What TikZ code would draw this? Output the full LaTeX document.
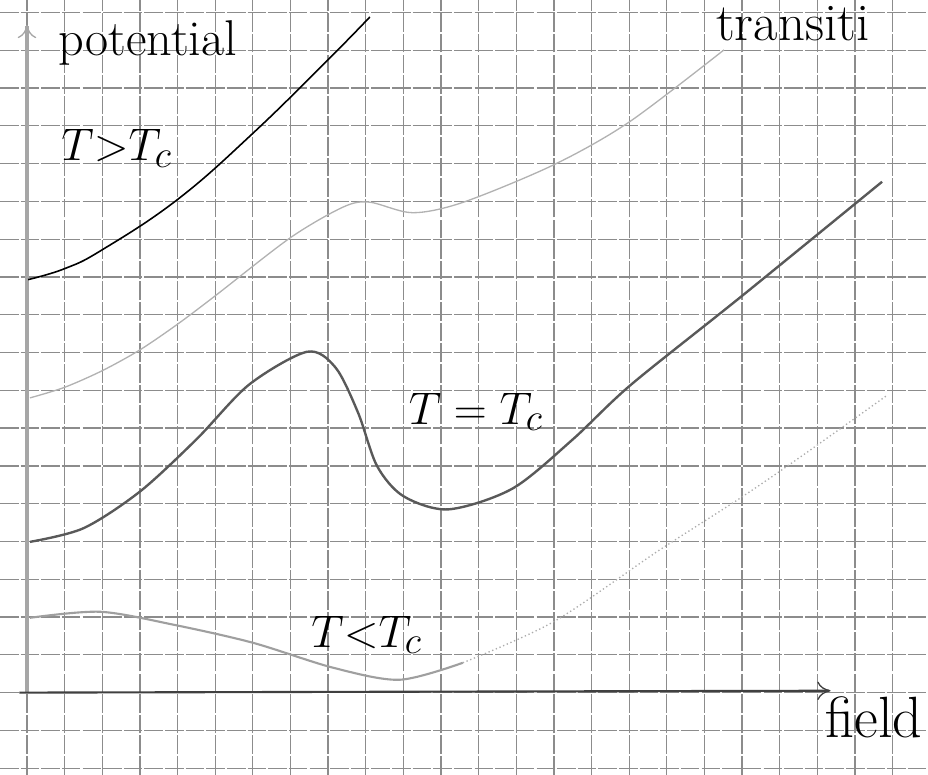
\documentclass[tikz,border=0pt]{standalone}
\usetikzlibrary{arrows.meta}

\tikzset{
  gridline/.style={black!45, line width=0.5pt, dash pattern=on 7pt off 0.8pt},
  axisline/.style={gray!70, line width=1.4pt},
  handlabel/.style={inner sep=0pt, font=\fontsize{19}{22}\selectfont},
}

\begin{document}
\begin{tikzpicture}[x=0.5cm, y=0.502cm]
    \useasboundingbox (-0.717,-2.17) rectangle (23.94,18.33);

    % --- SQUARED PAPER ---
    \draw[gridline, step=1.0] (-0.717,-2.17) grid (23.94,18.33);

    % --- AXES ---
    \coordinate (origin) at (0,0);
    \coordinate (ytip) at (0,17.67);
    \coordinate (xtip) at (21.35,0.05);
    \draw[axisline, -{To[length=5pt, width=7pt, line width=0.5pt]}] (origin) -- (ytip);
    \draw[black!75, line width=0.8pt, -{To[length=5pt, width=7pt, line width=0.5pt]}] (-0.2,0) -- (xtip);

    % T > T_c
    \draw[black, line width=0.6pt] plot[smooth, tension=0.7] coordinates {
        (0.03,10.93) (1,11.22) (2,11.72) (4,13.05) (6,14.8) (8,16.75) (9.11,17.88)};

    % in between, small bump
    \draw[gray!60, line width=0.5pt] plot[smooth] coordinates {
        (0.08,7.80) (1,8.08) (2,8.52) (3,9.07) (4,9.75) (5,10.5) (7,12.04)
        (8.4,12.85) (9.1,12.98) (10.25,12.70) (11.6,12.98) (14,13.97)
        (16,15.1) (18.52,17.01)};

    % T = T_c
    \draw[black!65, line width=0.9pt] plot[smooth] coordinates {
        (0.08,3.99) (1.5,4.35) (3,5.32) (4.5,6.7) (5.9,8.15) (7.44,9.02)
        (8.2,8.6) (8.8,7.4) (9.3,6.0) (10,5.2) (11.2,4.85) (12.9,5.4)
        (14.5,6.7) (16.05,8.15) (19,10.5) (22.72,13.52)};

    % T < T_c
    \draw[gray!75, line width=0.8pt] plot[smooth] coordinates {
        (0.08,1.98) (1.94,2.14) (3.88,1.80) (6.0,1.32) (8.13,0.66)
        (9.9,0.34) (11.58,0.79)};
    \draw[gray!65, line width=0.5pt, densely dotted] plot[smooth] coordinates {
        (11.58,0.79) (14.0,1.88) (16.74,3.73) (18.97,5.16) (20.64,6.30)
        (22.87,7.88)};

    % --- LABELS ---
    \node[handlabel] (potlabel) at (3.21,17.2) {potential};
    \node[handlabel] (abovelabel) at (2.39,14.4) {$T{>}T_c$};
    \node[handlabel] (critlabel) at (11.93,7.43) {$T=T_c$};
    \node[handlabel] (belowlabel) at (9.03,1.53) {$T{<}T_c$};
    \node[handlabel, font=\fontsize{22}{24}\selectfont] (fieldlabel) at (22.5,-0.66) {field};
    \node[handlabel, anchor=base west, font=\fontsize{20}{22}\selectfont] (translabel) at (18.3,17.25) {transiti};
\end{tikzpicture}
\end{document}
